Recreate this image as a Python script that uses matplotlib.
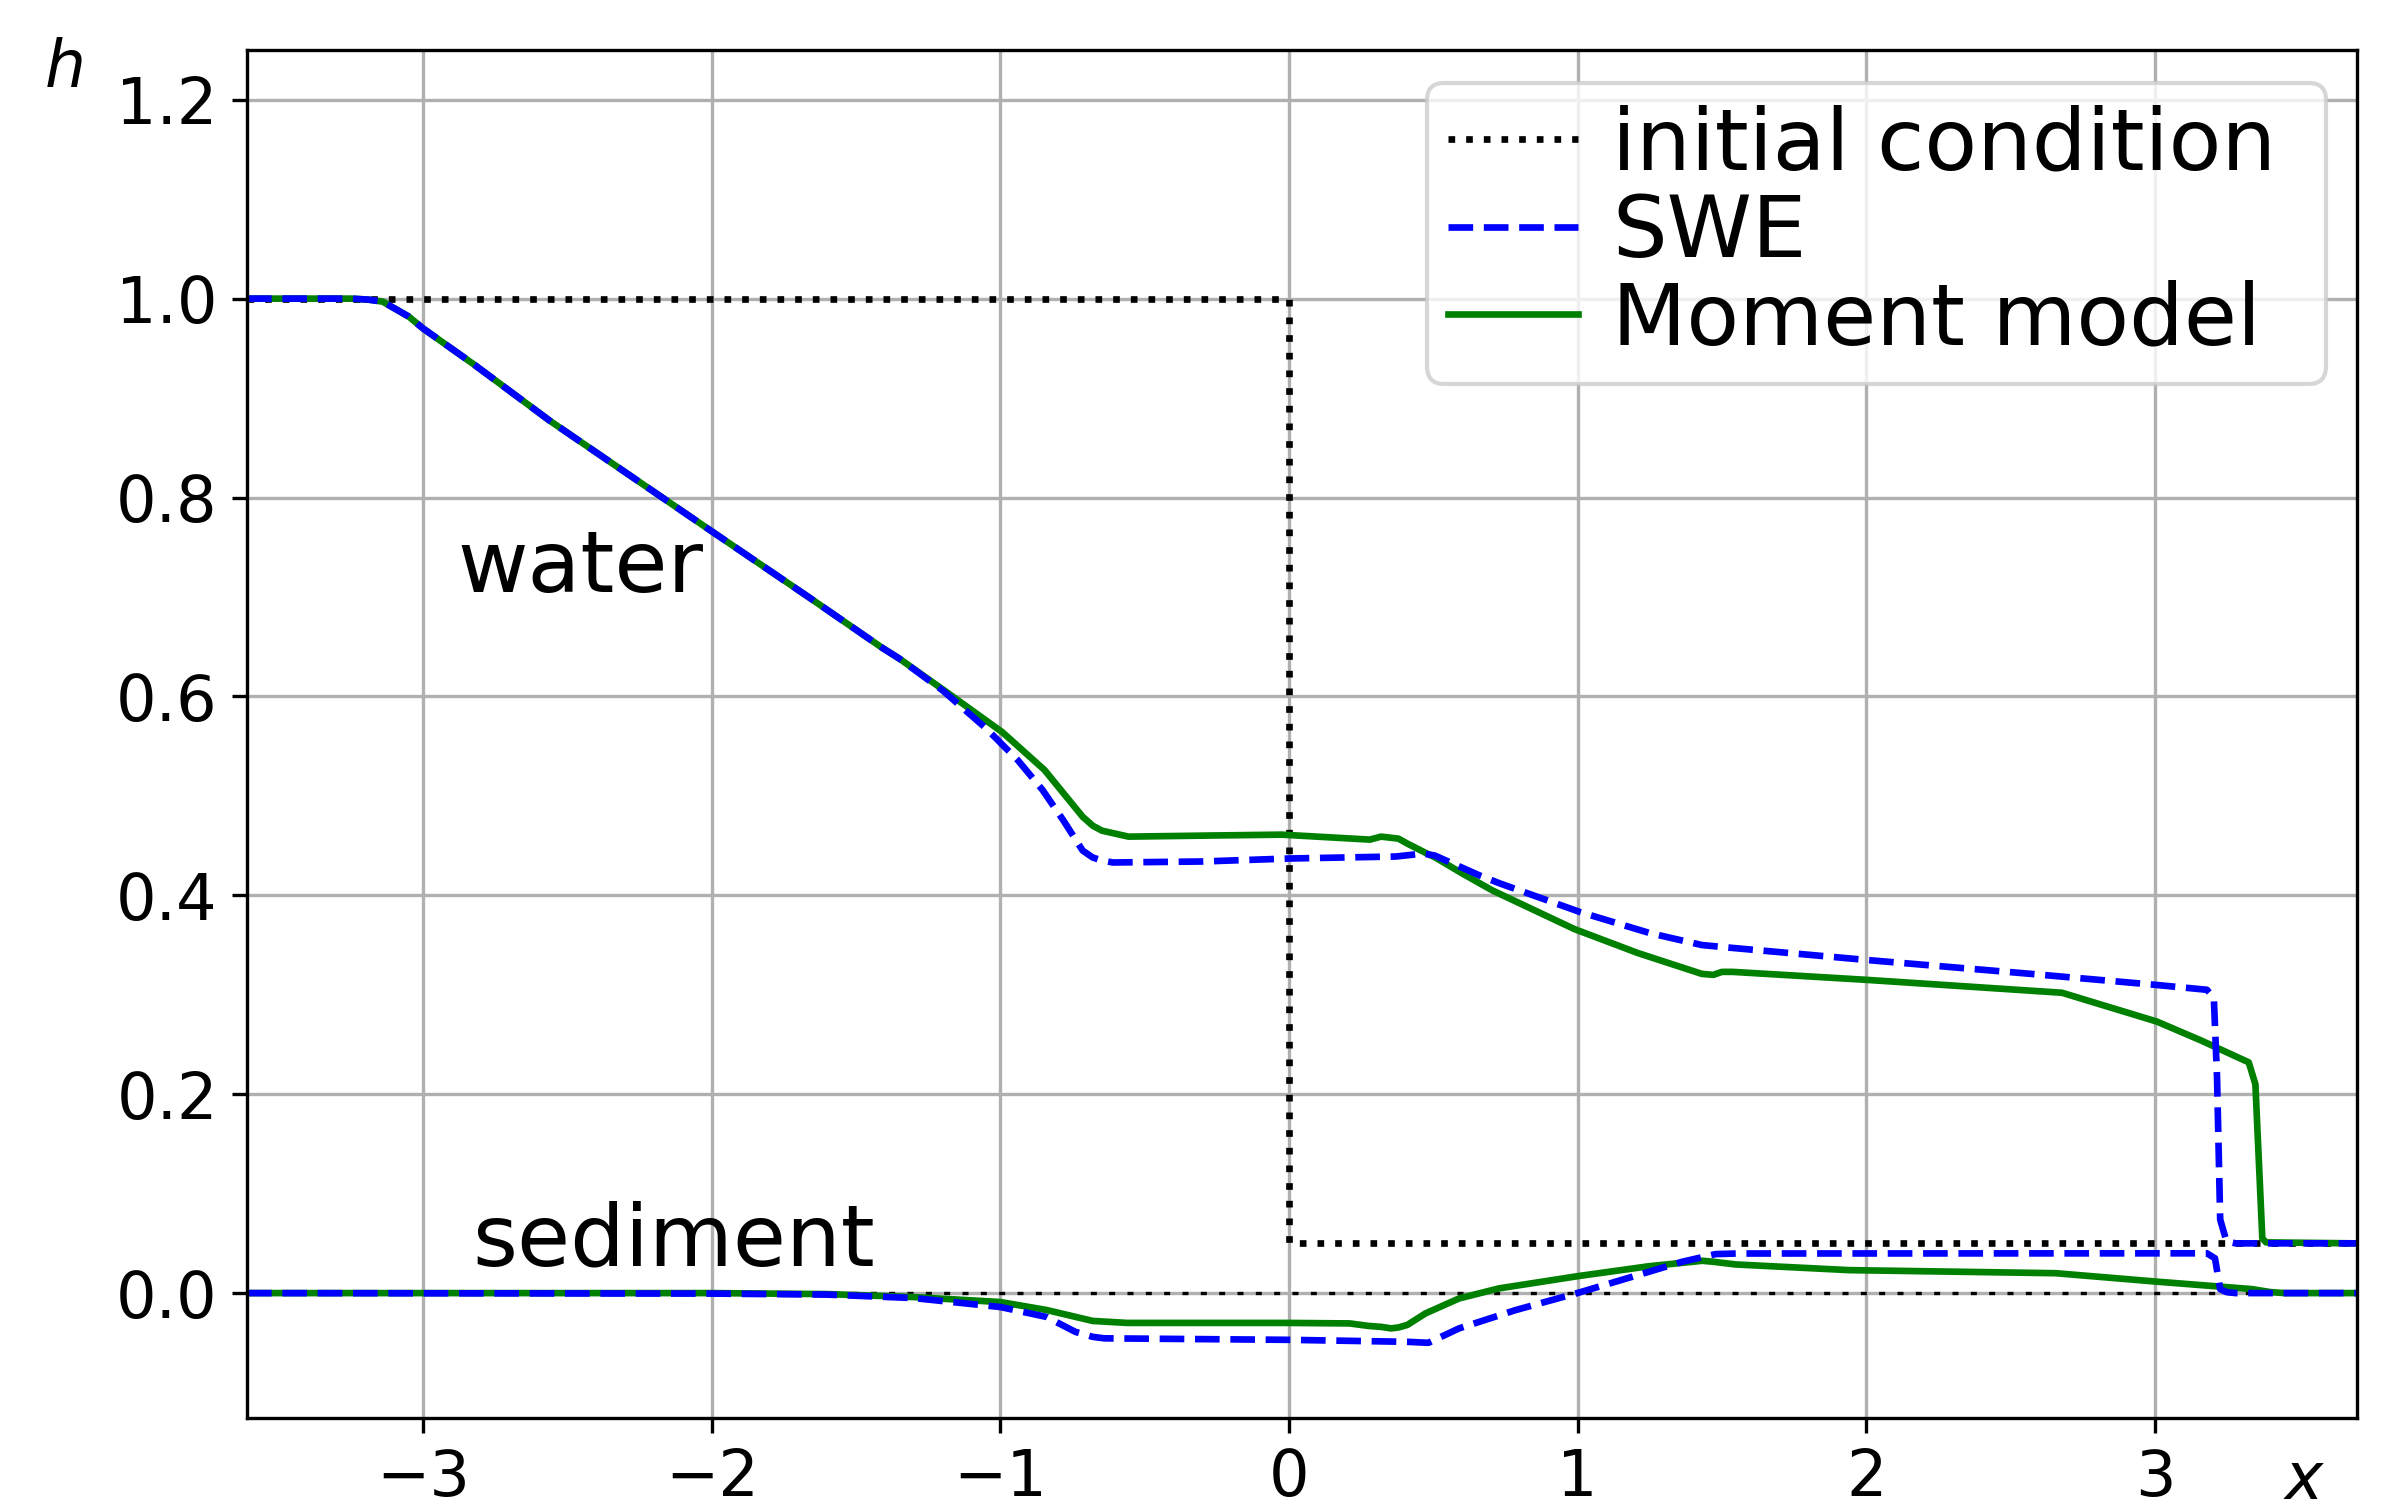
import matplotlib

matplotlib.use("Agg")
import matplotlib.pyplot as plt
import numpy as np

# domain limits
x_left, x_right = -3.61, 3.70

# initial condition (water step and flat sediment bed)
ic_water_x = [x_left, 0.0, 0.0, x_right]
ic_water_h = [1.0, 1.0, 0.05, 0.05]
ic_sed_x = [x_left, x_right]
ic_sed_h = [0.0, 0.0]

# SWE solution, water surface
swe_water_x = [x_left, -3.25, -3.19, -3.14, -3.05, -3.0, -2.82, -2.56, -2.29, -2.0,
               -1.67, -1.41, -1.35, -1.2, -1.05, -0.94, -0.854, -0.781, -0.715,
               -0.68, -0.648, -0.61, -0.3, 0.0, 0.37, 0.465, 0.505, 0.66, 0.73,
               1.01, 1.25, 1.43, 1.54, 2.0, 2.57, 3.0, 3.18, 3.204, 3.215, 3.226,
               3.248, 3.28, x_right]
swe_water_h = [1.0, 1.0, 0.999, 0.997, 0.982, 0.970, 0.933, 0.877, 0.8235, 0.766,
               0.701, 0.649, 0.638, 0.606, 0.568, 0.536, 0.506, 0.475, 0.445,
               0.438, 0.435, 0.433, 0.434, 0.437, 0.439, 0.442, 0.440, 0.420, 0.412,
               0.383, 0.362, 0.350, 0.347, 0.335, 0.321, 0.310, 0.305, 0.297, 0.218, 0.074,
               0.052, 0.05, 0.05]

# moment model, water surface
mom_water_x = [x_left, -3.25, -3.19, -3.14, -3.05, -3.0, -2.82, -2.56, -2.29, -2.0,
               -1.67, -1.41, -1.35, -1.18, -0.993, -0.847, -0.715, -0.68, -0.648,
               -0.556, -0.3, -0.025, 0.28, 0.319, 0.379, 0.41, 0.478, 0.507, 0.60,
               0.704, 0.989, 1.208, 1.43, 1.47, 1.50, 1.537, 2.0, 2.678, 3.007, 3.16,
               3.325, 3.348, 3.372, 3.385, x_right]
mom_water_h = [1.0, 1.0, 0.999, 0.997, 0.982, 0.970, 0.933, 0.877, 0.8235, 0.766,
               0.701, 0.649, 0.638, 0.603, 0.564, 0.526, 0.479, 0.470, 0.465,
               0.459, 0.460, 0.461, 0.456, 0.459, 0.457, 0.452, 0.442, 0.438, 0.422,
               0.405, 0.366, 0.342, 0.321, 0.320, 0.323, 0.323, 0.315, 0.302, 0.273, 0.254,
               0.232, 0.210, 0.055, 0.051, 0.05]

# SWE solution, sediment
swe_sed_x = [x_left, -2.0, -1.6, -1.3, -1.0, -0.84, -0.74, -0.68, -0.64, 0.0, 0.41,
             0.483, 0.589, 0.785, 1.002, 1.189, 1.362, 1.478, 1.55, 3.18, 3.208,
             3.226, 3.248, 3.28, x_right]
swe_sed_h = [0.0, -0.0005, -0.0015, -0.005, -0.014, -0.024, -0.039, -0.044, -0.0455,
             -0.047, -0.049, -0.050, -0.0355, -0.0171, 0.0003, 0.0164, 0.0315, 0.0392,
             0.0398, 0.040, 0.035, 0.004, 0.001, 0.0, 0.0]

# moment model, sediment
mom_sed_x = [x_left, -2.0, -1.6, -1.3, -1.0, -0.84, -0.68, -0.56, 0.0, 0.21, 0.275,
             0.32, 0.354, 0.38, 0.41, 0.473, 0.589, 0.727, 1.002, 1.247, 1.432, 1.47,
             1.547, 1.94, 2.656, 3.007, 3.336, 3.40, 3.45, x_right]
mom_sed_h = [0.0, 0.0, -0.001, -0.004, -0.009, -0.017, -0.028, -0.030, -0.030, -0.0305,
             -0.033, -0.034, -0.0355, -0.0345, -0.032, -0.0204, -0.0054, 0.0047, 0.0171,
             0.027, 0.0325, 0.0315, 0.0288, 0.0231, 0.020, 0.0115, 0.004, 0.001, 0.0, 0.0]


def main() -> None:
    fig = plt.figure(figsize=(2392 / 300, 1512 / 300), dpi=300)
    ax = fig.add_axes([247 / 2392, 1 - 1418 / 1512, 2110 / 2392, 1368 / 1512])

    ic_line, = ax.plot(ic_water_x, ic_water_h, color="black", linestyle=":", linewidth=1.6,
                       label="initial condition")
    ax.plot(ic_sed_x, ic_sed_h, color="black", linestyle=(0, (1.8, 3.7)), linewidth=0.8)

    mom_line, = ax.plot(mom_water_x, mom_water_h, color="green", linewidth=1.6,
                        label="Moment model")
    ax.plot(mom_sed_x, mom_sed_h, color="green", linewidth=1.6)
    swe_line, = ax.plot(swe_water_x, swe_water_h, color="blue", linestyle="--",
                        linewidth=1.6, label="SWE")
    ax.plot(swe_sed_x, swe_sed_h, color="blue", linestyle="--", linewidth=1.6)

    ax.set_xlim(x_left, x_right)
    ax.set_ylim(-0.1256, 1.25)
    ax.set_yticks([0.0, 0.2, 0.4, 0.6, 0.8, 1.0, 1.2])
    ax.tick_params(labelsize=15.3)
    ax.grid(True)

    ax.text(-2.88, 0.705, "water", fontsize=20.7)
    ax.text(-2.83, 0.028, "sediment", fontsize=20.7)

    ax.set_ylabel("$h$", rotation=0, fontsize=15.5, ha="center", va="center")
    ax.yaxis.set_label_coords(-0.087, 0.986)
    ax.set_xlabel("$x$", fontsize=15.5, ha="center", va="center")
    ax.xaxis.set_label_coords(0.975, -0.046)

    # legend box stretched to the width seen in the reference
    ax.legend(handles=[ic_line, swe_line, mom_line], loc="upper right", fontsize=20.7,
              bbox_to_anchor=(0.5592, 0.0, 0.4261, 0.9759), mode="expand",
              handlelength=1.5, handletextpad=0.4, borderpad=0.25, labelspacing=0.05,
              borderaxespad=0.0)

    fig.savefig("out.png", dpi=300)


if __name__ == "__main__":
    main()
